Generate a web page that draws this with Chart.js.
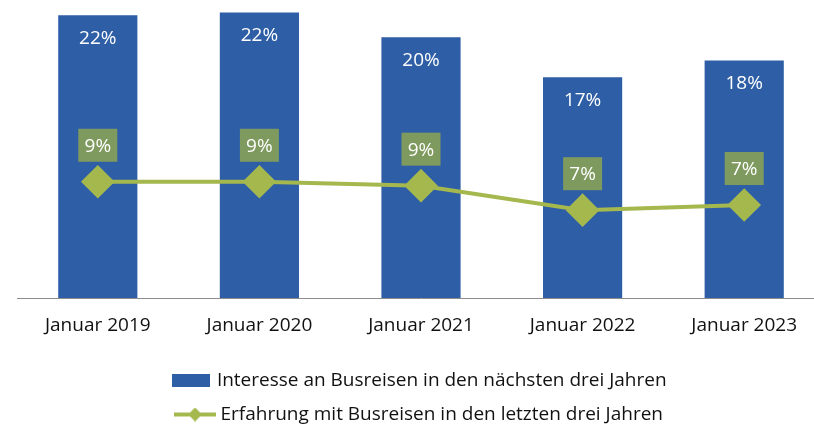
<!DOCTYPE html>
<html>
<head>
<meta charset="utf-8">
<script src="https://cdn.jsdelivr.net/npm/chart.js@4/dist/chart.umd.min.js"></script>
<style>
  html, body { margin: 0; padding: 0; background: #fff; }
  #wrap { width: 814px; height: 426px; overflow: hidden; position: relative; }
  canvas { display: block; }
</style>
</head>
<body>
<div id="wrap"><canvas id="myChart" width="830" height="426"></canvas></div>
<script>
const labels = ['Januar 2019', 'Januar 2020', 'Januar 2021', 'Januar 2022', 'Januar 2023'];
const interesse = [21.9, 22.1, 20.2, 17.1, 18.4];
const erfahrung = [9.0, 9.0, 8.7, 6.8, 7.2];

const blue = '#2E5EA6';
const olive = '#A4B84E';
const labelBox = '#7F9A5F';
const font = "'Open Sans', 'Lato', sans-serif";

// legend symbols
function barSymbol() {
    const c = document.createElement('canvas');
    c.width = 38; c.height = 13;
    const g = c.getContext('2d');
    g.fillStyle = blue;
    g.fillRect(0, 0, 38, 13);
    return c;
}
function lineSymbol() {
    const c = document.createElement('canvas');
    c.width = 42; c.height = 14;
    const g = c.getContext('2d');
    g.strokeStyle = olive;
    g.lineWidth = 4;
    g.beginPath(); g.moveTo(0, 7); g.lineTo(42, 7); g.stroke();
    g.fillStyle = olive;
    g.beginPath(); g.moveTo(21, 0); g.lineTo(28, 7); g.lineTo(21, 14); g.lineTo(14, 7); g.closePath(); g.fill();
    return c;
}

const valueLabels = {
    id: 'valueLabels',
    afterDatasetsDraw(chart) {
        const c = chart.ctx;
        c.save();
        c.font = '19px ' + font;
        c.textAlign = 'center';
        c.textBaseline = 'middle';
        chart.getDatasetMeta(1).data.forEach((bar, i) => {
            c.fillStyle = '#fff';
            c.fillText(Math.round(interesse[i]) + '%', bar.x, bar.y + 23);
        });
        chart.getDatasetMeta(0).data.forEach((pt, i) => {
            const w = 39, h = 33;
            const cy = pt.y - 36.5;
            c.fillStyle = labelBox;
            c.fillRect(pt.x - w / 2, cy - h / 2, w, h);
            c.fillStyle = '#fff';
            c.fillText(Math.round(erfahrung[i]) + '%', pt.x, cy + 1);
        });
        c.restore();
    }
};

const ctx = document.getElementById('myChart').getContext('2d');
const chart = new Chart(ctx, {
    type: 'bar',
    data: {
        labels: labels,
        datasets: [{
            type: 'line',
            label: 'Erfahrung mit Busreisen in den letzten drei Jahren',
            data: erfahrung,
            borderColor: olive,
            backgroundColor: olive,
            borderWidth: 4,
            pointStyle: 'rectRot',
            pointRadius: 14,
            pointHoverRadius: 14,
            tension: 0,
            order: 0
        }, {
            label: 'Interesse an Busreisen in den nächsten drei Jahren',
            data: interesse,
            backgroundColor: blue,
            categoryPercentage: 1,
            barPercentage: 0.49,
            order: 1
        }]
    },
    options: {
        responsive: false,
        animation: false,
        layout: { autoPadding: false, padding: { left: 17, right: 5, top: 1, bottom: -8 } },
        scales: {
            x: {
                grid: { display: false, drawTicks: false },
                border: { color: '#8c8c8c', width: 1 },
                ticks: { color: '#111', font: { family: font, size: 19 }, padding: 16 },
                afterFit(scale) { scale.height = 58; }
            },
            y: {
                display: false,
                min: 0,
                max: 23
            }
        },
        plugins: {
            legend: {
                position: 'bottom',
                labels: {
                    usePointStyle: true,
                    pointStyleWidth: 32,
                    color: '#111',
                    font: { family: font, size: 19 },
                    padding: 15,
                    generateLabels(chart) {
                        return [{
                            text: chart.data.datasets[1].label,
                            pointStyle: barSymbol(),
                            datasetIndex: 1,
                            fontColor: '#111'
                        }, {
                            text: chart.data.datasets[0].label,
                            pointStyle: lineSymbol(),
                            datasetIndex: 0,
                            fontColor: '#111'
                        }];
                    }
                }
            },
            tooltip: { enabled: false }
        }
    },
    plugins: [valueLabels]
});
</script>
</body>
</html>
